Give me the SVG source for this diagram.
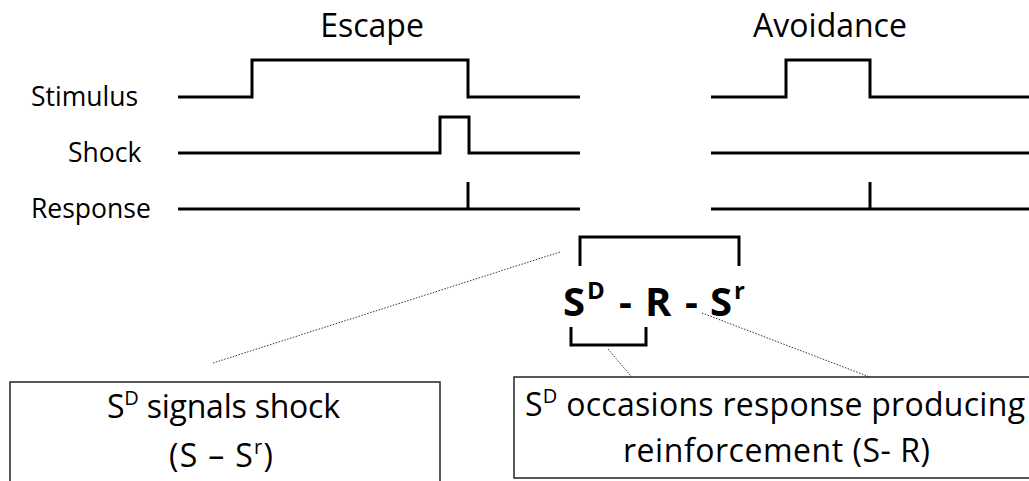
<svg xmlns="http://www.w3.org/2000/svg" width="1029" height="481" viewBox="0 0 1029 481">
<style>
  .sig { fill: none; stroke: #000; stroke-width: 3; stroke-linejoin: miter; }
  .lbl { font-family: "Open Sans", "Liberation Sans", sans-serif; font-size: 26.5px; fill: #000; }
  .ttl { font-family: "Open Sans", "Liberation Sans", sans-serif; font-size: 32px; fill: #000; }
  .box { fill: #fff; stroke: #222; stroke-width: 1.5; }
  .bt { font-family: "Open Sans", "Liberation Sans", sans-serif; font-size: 32px; fill: #000; }
  .sup { font-size: 20px; }
  .f { font-family: "Open Sans", "Liberation Sans", sans-serif; font-weight: bold; fill: #000; }
  .dot { stroke: #333; stroke-width: 1; stroke-dasharray: 1.5 1.5; fill: none; }
  .br { fill: none; stroke: #000; stroke-width: 3; }
</style>
<rect width="1029" height="481" fill="#fff"/>
<g id="escape">
  <text class="ttl" x="372" y="37" text-anchor="middle">Escape</text>
  <text class="lbl" x="31" y="106">Stimulus</text>
  <text class="lbl" x="68" y="162">Shock</text>
  <text class="lbl" x="31" y="218">Response</text>
  <polyline class="sig" points="178,97 252,97 252,60 468,60 468,97 580,97"/>
  <polyline class="sig" points="178,153 440,153 440,117 469,117 469,153 580,153"/>
  <polyline class="sig" points="178,209 580,209"/>
  <line class="sig" x1="468" y1="182" x2="468" y2="209"/>
</g>
<g id="avoidance">
  <text class="ttl" x="830" y="37" text-anchor="middle">Avoidance</text>
  <polyline class="sig" points="711,97 786,97 786,60 870,60 870,97 1029,97"/>
  <polyline class="sig" points="711,153 1029,153"/>
  <polyline class="sig" points="711,209 1029,209"/>
  <line class="sig" x1="870" y1="182" x2="870" y2="209"/>
</g>
<g id="formula">
  <polyline class="br" points="580,266 580,237 739,237 739,266"/>
  <text class="f" font-size="40" x="563" y="316">S</text>
  <text class="f" font-size="24" x="587" y="299">D</text>
  <text class="f" font-size="40" x="619" y="316">-</text>
  <text class="f" font-size="40" x="645" y="316">R</text>
  <text class="f" font-size="40" x="685" y="316">-</text>
  <text class="f" font-size="40" x="710" y="316">S</text>
  <text class="f" font-size="24" x="734" y="299">r</text>
  <polyline class="br" points="571,327 571,345 646,345 646,327"/>
</g>
<g id="connectors">
  <line class="dot" x1="560" y1="252" x2="213" y2="363"/>
  <line class="dot" x1="608" y1="349" x2="647" y2="395"/>
  <line class="dot" x1="702" y1="313" x2="930" y2="400"/>
</g>
<g id="box-left">
  <rect class="box" x="10" y="382" width="430" height="110"/>
  <text class="bt" x="107" y="418" textLength="233" lengthAdjust="spacing">S<tspan class="sup" dy="-13">D</tspan><tspan dy="13"> signals shock</tspan></text>
  <text class="bt" x="169" y="467" textLength="104" lengthAdjust="spacing">(S – S<tspan class="sup" dy="-13">r</tspan><tspan dy="13">)</tspan></text>
</g>
<g id="box-right">
  <rect class="box" x="514" y="377" width="530" height="101"/>
  <text class="bt" x="525" y="416" textLength="500" lengthAdjust="spacing">S<tspan class="sup" dy="-13">D</tspan><tspan dy="13"> occasions response producing</tspan></text>
  <text class="bt" x="623" y="462" textLength="307" lengthAdjust="spacing">reinforcement (S- R)</text>
</g>
</svg>
